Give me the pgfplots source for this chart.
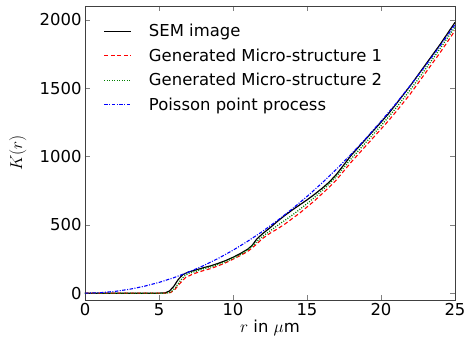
\documentclass[border=0pt]{standalone}
\usepackage{fontspec}
\setmainfont{DejaVu Sans}
\usepackage{pgfplots}
\pgfplotsset{compat=1.18}
\newcommand{\bigf}{\fontsize{16.5}{19}\selectfont}
\begin{document}
\begin{tikzpicture}[font=\bigf]
\begin{axis}[
  scale only axis,
  width=370bp, height=294bp,
  xmin=0, xmax=25, ymin=-50, ymax=2100,
  xtick={0,5,...,25}, ytick={0,500,...,2000},
  tick align=inside,
  major tick length=5bp,
  minor tick num=0,
  tick label style={font=\bigf},
  label style={font=\bigf},
  /pgf/number format/assume math mode=true,
  /pgf/number format/1000 sep={},
  xlabel={$r$ in $\mu$m},
  ylabel={$K(r)$},
  xlabel style={yshift=3bp},
  ylabel style={at={(axis description cs:0,0.5)}, anchor=south, yshift=55bp},
  axis line style={black!75},
  legend style={draw=none, fill=none, at={(0.05,0.945)}, anchor=north west, row sep=6.5bp, font=\bigf, inner sep=0pt},
  legend cell align=left,
  legend image code/.code={\draw[#1] (0bp,0bp) -- (27bp,0bp); \path (42bp,0bp);},
]
\addplot[black, line width=1.2pt] coordinates {
(0,0) (5,0) (5.4,2) (5.7,15) (6.0,50) (6.3,100) (6.6,135) (7.0,155) (7.5,170) (8,186) (8.5,200) (9,218) (9.5,238) (10,262) (10.5,290) (11,322) (11.3,350) (11.6,395) (12,435) (12.5,478) (13,525) (13.5,568) (14,608) (14.5,645) (15,682) (15.5,722) (16,765) (16.5,812) (17,870) (17.5,940) (18,1010) (18.5,1070) (19,1130) (19.5,1190) (20,1250) (20.5,1312) (21,1380) (21.5,1450) (22,1520) (22.5,1595) (23,1670) (23.5,1745) (24,1820) (24.5,1900) (25,1980)
};
\addlegendentry{SEM image}
\addplot[red, line width=1.1pt, dash pattern=on 4pt off 2.5pt] coordinates {
(0,0) (5.5,0) (5.8,5) (6.1,30) (6.4,70) (6.8,115) (7.2,135) (7.5,148) (8,165) (8.5,180) (9,200) (9.5,222) (10,248) (10.5,275) (11,305) (11.5,350) (12,400) (12.5,438) (13,470) (13.5,505) (14,545) (14.5,585) (15,630) (15.5,675) (16,725) (16.5,775) (17,830) (17.5,895) (18,960) (18.5,1020) (19,1080) (19.5,1140) (20,1200) (20.5,1260) (21,1325) (21.5,1392) (22,1460) (22.5,1535) (23,1610) (23.5,1685) (24,1760) (24.5,1840) (25,1920)
};
\addlegendentry{Generated Micro-structure 1}
\addplot[green!50!black, line width=1.3pt, dash pattern=on 1pt off 1.5pt] coordinates {
(0,0) (5.5,0) (5.8,8) (6.1,40) (6.4,85) (6.7,125) (7.0,145) (7.5,160) (8,178) (8.5,192) (9,210) (9.5,230) (10,255) (10.5,282) (11,315) (11.5,365) (12,415) (12.5,455) (13,495) (13.5,532) (14,570) (14.5,612) (15,655) (15.5,700) (16,748) (16.5,800) (17,855) (17.5,920) (18,985) (18.5,1045) (19,1105) (19.5,1165) (20,1225) (20.5,1287) (21,1352) (21.5,1420) (22,1490) (22.5,1563) (23,1638) (23.5,1713) (24,1790) (24.5,1868) (25,1945)
};
\addlegendentry{Generated Micro-structure 2}
\addplot[blue, line width=1.1pt, dash pattern=on 3.5pt off 1.5pt on 1pt off 1.5pt] coordinates {
(0,0) (1,3.1) (2,12.6) (3,28.3) (4,50.3) (5,78.5) (6,113) (7,154) (8,201) (9,254) (10,314) (11,380) (12,452) (13,531) (14,616) (15,707) (16,804) (17,908) (18,1018) (19,1134) (20,1257) (21,1385) (22,1521) (23,1662) (24,1810) (25,1963)
};
\addlegendentry{Poisson point process}
\end{axis}
\pgfresetboundingbox
\path ([xshift=-85bp,yshift=-44bp]current axis.south west) rectangle ([xshift=9bp,yshift=6bp]current axis.north east);
\end{tikzpicture}
\end{document}
